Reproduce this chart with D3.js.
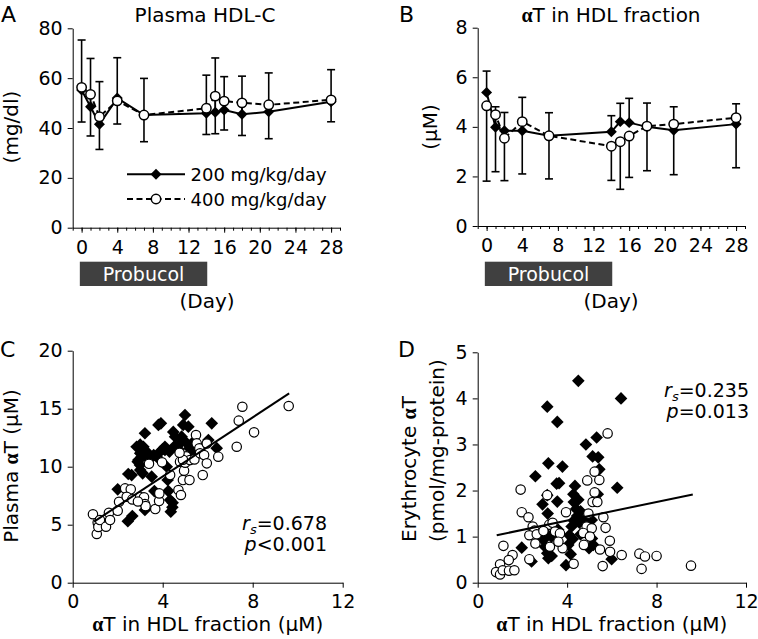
<!DOCTYPE html>
<html>
<head>
<meta charset="utf-8">
<script src="https://cdn.jsdelivr.net/npm/d3@7"></script>
<style>
  body { margin: 0; background: #fff; }
  svg { display: block; font-family: "DejaVu Sans", Verdana, sans-serif; }
</style>
</head>
<body>
<svg id="chart" width="758" height="639"></svg>
<script>
// ---- data ----
var days = [0, 1, 2, 4, 7, 14, 15, 16, 18, 21, 28];
var probucolDays = [-0.2, 14.1];

// panel A, plasma HDL-C (mg/dl)
var hdl200 = [55.2, 48.5, 41.5, 52.0, 45.2, 45.9, 46.3, 47.2, 45.5, 46.5, 50.5];
var hdl200Sd = [20.1, 19.4, 17.1, 16.2, 14.7, 15.3, 21.8, 13.4, 15.3, 15.6, 12.9];
var hdl400 = [56.3, 53.5, 44.5, 50.9, 45.2, 47.9, 52.8, 50.8, 50.1, 49.3, 51.3];
var hdl400Sd = [13.9, 16.7, 13.1, 9.3, 10.7, 10.5, 15.1, 11.6, 13.1, 13.6, 8.8];

// panel B, alpha-T in HDL fraction (uM)
var hdlT200 = [5.39, 3.98, 3.84, 3.84, 3.64, 3.80, 4.21, 4.17, 4.00, 3.86, 4.11];
var hdlT200Sd = [0.86, 0.83, 0.74, 1.35, 0.93, 0.65, 0.74, 0.98, 0.96, 0.95, 0.82];
var hdlT400 = [4.85, 4.49, 3.54, 4.21, 3.64, 3.22, 3.40, 3.63, 4.03, 4.11, 4.37];
var hdlT400Sd = [3.04, 2.30, 1.71, 2.11, 1.74, 1.38, 1.92, 1.67, 1.80, 2.04, 2.02];

// panel C, plasma aT vs aT in HDL
var plasma200 = [[2.0, 8.05], [2.45, 5.3], [2.65, 5.75], [2.47, 9.37], [2.62, 9.28], [2.84, 11.72], [2.92, 10.57],
  [2.89, 10.43], [3.0, 11.15], [2.99, 10.14], [3.07, 10.86], [3.0, 9.71], [3.11, 9.43], [3.21, 12.88], [3.14, 11.72],
  [3.29, 11.29], [3.21, 6.27], [3.51, 9.14], [3.63, 7.9], [3.73, 10.86], [3.81, 13.6], [3.92, 13.74], [3.88, 11.29],
  [4.1, 11.44], [4.1, 11.72], [4.18, 10.0], [4.22, 8.85], [4.25, 7.9], [4.33, 7.13], [4.36, 6.12], [4.43, 6.5],
  [4.44, 6.9], [4.47, 13.0], [4.55, 12.59], [4.5, 11.72], [4.77, 12.0], [4.84, 12.59], [4.91, 13.6], [5.0, 12.16],
  [4.99, 14.46], [5.14, 13.45], [5.19, 11.58], [5.29, 12.0], [5.36, 11.15], [6.03, 12.3], [6.18, 13.74], [6.40, 11.6],
  [3.6, 11.0], [3.4, 10.6], [4.3, 11.3], [4.7, 11.5], [3.0, 11.9], [3.2, 11.0], [4.0, 11.5]];
var plasma400 = [[0.9, 5.9], [1.07, 4.2], [1.11, 5.2], [1.14, 4.8], [1.21, 5.4], [1.48, 4.83], [1.61, 6.03], [1.66, 5.4],
  [2.0, 6.2], [2.06, 6.98], [2.33, 8.13], [2.58, 8.05], [2.4, 7.41], [2.65, 7.18], [3.0, 7.41], [3.17, 7.36], [3.21, 6.78],
  [3.24, 6.6], [3.39, 10.25], [3.67, 6.35], [3.84, 7.04], [3.85, 7.7], [3.97, 10.38], [4.33, 9.28], [4.7, 7.99],
  [4.81, 7.56], [4.77, 10.43], [4.9, 8.85], [4.95, 9.66], [5.0, 10.34], [5.04, 10.9], [5.19, 8.85], [5.21, 10.57],
  [5.41, 10.63], [5.48, 12.73], [5.51, 12.01], [5.63, 11.58], [5.66, 11.15], [5.78, 9.28], [5.84, 11.0], [5.96, 10.29],
  [5.96, 12.0], [6.47, 10.86], [7.29, 11.72], [7.38, 13.97], [7.54, 15.17], [8.06, 12.96], [9.6, 15.23], [4.9, 10.6],
  [4.75, 11.2], [2.9, 7.0]];
var plasmaFit = { slope: 1.274, intercept: 4.06, from: 0.95, to: 9.62 };
var plasmaStats = ["0.678", "<0.001"];

// panel D, erythrocyte aT vs aT in HDL
var rbc200 = [[4.50, 4.38], [3.11, 3.82], [3.56, 3.49], [6.41, 4.0], [4.84, 3.0], [5.32, 3.15], [5.14, 2.74],
  [5.39, 2.72], [5.44, 2.46], [3.16, 2.59], [3.79, 2.52], [2.58, 2.31], [3.53, 2.15], [3.64, 2.16], [6.24, 2.06],
  [4.35, 2.1], [4.28, 1.92], [5.37, 1.92], [3.11, 1.90], [2.9, 1.70], [3.56, 1.76], [3.13, 1.50], [4.3, 1.75],
  [4.4, 1.6], [4.5, 1.8], [4.45, 1.45], [4.6, 1.55], [4.3, 1.35], [4.55, 1.3], [4.87, 1.40], [5.1, 1.36], [5.11, 0.96],
  [5.17, 0.82], [4.98, 0.75], [1.97, 0.76], [2.41, 0.46], [2.94, 0.93], [3.01, 0.78], [3.11, 0.64], [3.16, 0.53],
  [3.31, 0.58], [3.95, 0.38], [4.16, 0.62], [4.1, 1.03], [4.2, 1.22], [4.05, 0.82], [5.99, 0.51], [3.3, 1.0],
  [3.6, 1.15], [4.25, 0.95], [4.6, 1.05], [3.0, 1.1]];
var rbc400 = [[5.81, 3.24], [1.92, 2.02], [5.23, 2.41], [4.9, 2.22], [5.44, 2.23], [5.23, 1.96], [5.14, 1.75],
  [5.35, 1.75], [1.97, 1.53], [2.27, 1.42], [3.95, 1.53], [3.11, 1.90], [2.46, 1.22], [2.54, 1.13], [2.31, 1.03],
  [2.64, 1.05], [3.2, 1.26], [3.35, 1.3], [3.46, 1.11], [3.68, 1.07], [2.94, 1.12], [2.58, 0.85], [3.23, 0.78],
  [3.8, 0.75], [3.61, 0.89], [4.95, 1.5], [4.87, 1.22], [5.1, 1.18], [4.72, 1.08], [5.02, 1.0], [4.75, 0.82],
  [5.62, 1.42], [5.72, 1.19], [5.91, 0.91], [5.47, 0.72], [5.92, 0.67], [5.59, 0.36], [6.44, 0.6], [7.23, 0.63],
  [7.48, 0.57], [7.33, 0.3], [8.0, 0.58], [4.29, 0.41], [2.31, 0.51], [1.15, 0.80], [1.56, 0.6], [1.39, 0.49],
  [1.0, 0.4], [0.82, 0.23], [1.0, 0.18], [1.12, 0.27], [1.4, 0.26], [1.64, 0.27], [9.54, 0.37]];
var rbcFit = { slope: 0.101, intercept: 0.944, from: 0.85, to: 9.62 };
var rbcStats = ["0.235", "=0.013"];

var svg = d3.select("#chart");
var alphaFont = "'Liberation Serif', 'DejaVu Serif', serif";
var diamond = d3.symbol().type(d3.symbolSquare);

function styleAxis(sel, size) {
    sel.select(".domain").attr("stroke", "#000").attr("stroke-width", 1);
    sel.selectAll(".tick line").attr("stroke", "#000");
    sel.selectAll(".tick text").attr("font-size", size).attr("fill", "#000")
        .attr("font-family", "'DejaVu Sans', Verdana, sans-serif");
}

// writes "aT" with a bold serif alpha
function alphaText(sel, before, after) {
    if (before) sel.append("tspan").text(before);
    sel.append("tspan").attr("font-family", alphaFont).attr("font-weight", "bold").text("\u03b1");
    sel.append("tspan").text(after);
}

function panelLetter(txt, x, y) {
    svg.append("text").attr("x", x).attr("y", y).attr("font-size", 22).text(txt);
}

/*
 * time course panel (A, B)
 */
function timePanel(p) {
    var x = d3.scaleLinear().domain([-1, 29]).range(p.xRange);
    var y = d3.scaleLinear().domain(p.yDomain).range(p.yRange);
    var g = svg.append("g");

    g.append("g").attr("transform", "translate(" + p.xRange[0] + ",0)")
        .call(d3.axisLeft(y).tickValues(p.yTicks).tickSize(5).tickPadding(5).tickSizeOuter(0))
        .call(styleAxis, 19);

    // minor ticks every day, labelled major ticks every 4 days
    g.append("g").attr("transform", "translate(0," + p.yRange[0] + ")")
        .call(d3.axisBottom(x).tickValues(d3.range(-1, 30)).tickSize(3).tickFormat("").tickSizeOuter(0))
        .call(styleAxis, 19);
    g.append("g").attr("transform", "translate(0," + p.yRange[0] + ")")
        .call(d3.axisBottom(x).tickValues(d3.range(0, 29, 4)).tickSize(5).tickPadding(8).tickSizeOuter(0))
        .call(function(s) { s.select(".domain").remove(); })
        .call(styleAxis, 19);

    // probucol period
    g.append("rect")
        .attr("x", x(probucolDays[0])).attr("width", x(probucolDays[1]) - x(probucolDays[0]))
        .attr("y", 261.7).attr("height", 24.3).attr("fill", "#404040");
    g.append("text").attr("x", (x(probucolDays[0]) + x(probucolDays[1])) / 2).attr("y", 281)
        .attr("text-anchor", "middle").attr("fill", "#fff").attr("font-size", 19).text("Probucol");
    g.append("text").attr("x", p.dayX).attr("y", 308).attr("text-anchor", "middle")
        .attr("font-size", 20).text("(Day)");

    // error bars: 200 group upward, 400 group downward
    var cap = 4;
    days.forEach(function(d, i) {
        var top = y(p.s200[i] + p.sd200[i]), bot = y(p.s400[i] - p.sd400[i]);
        g.append("line").attr("x1", x(d)).attr("x2", x(d)).attr("y1", y(p.s200[i])).attr("y2", top)
            .attr("stroke", "#000").attr("stroke-width", 1.6);
        g.append("line").attr("x1", x(d) - cap).attr("x2", x(d) + cap).attr("y1", top).attr("y2", top)
            .attr("stroke", "#000").attr("stroke-width", 1.6);
        g.append("line").attr("x1", x(d)).attr("x2", x(d)).attr("y1", y(p.s400[i])).attr("y2", bot)
            .attr("stroke", "#000").attr("stroke-width", 1.6);
        g.append("line").attr("x1", x(d) - cap).attr("x2", x(d) + cap).attr("y1", bot).attr("y2", bot)
            .attr("stroke", "#000").attr("stroke-width", 1.6);
    });

    var line = d3.line().x(function(d, i) { return x(days[i]); }).y(function(d) { return y(d); });

    g.append("path").datum(p.s200).attr("d", line).attr("fill", "none")
        .attr("stroke", "#000").attr("stroke-width", 2);
    g.selectAll(".d200").data(p.s200).enter().append("path")
        .attr("d", diamond.size(60))
        .attr("transform", function(d, i) { return "translate(" + x(days[i]) + "," + y(d) + ") rotate(45)"; })
        .attr("fill", "#000");

    g.append("path").datum(p.s400).attr("d", line).attr("fill", "none")
        .attr("stroke", "#000").attr("stroke-width", 2).attr("stroke-dasharray", "6,3.5");
    g.selectAll(".c400").data(p.s400).enter().append("circle")
        .attr("cx", function(d, i) { return x(days[i]); }).attr("cy", function(d) { return y(d); })
        .attr("r", 4.7).attr("fill", "#fff").attr("stroke", "#000").attr("stroke-width", 1.5);

    return { x: x, y: y, g: g };
}

/*
 * scatter panel (C, D)
 */
function scatterPanel(p) {
    var x = d3.scaleLinear().domain([0, 12]).range(p.xRange);
    var y = d3.scaleLinear().domain(p.yDomain).range(p.yRange);
    var g = svg.append("g");

    g.append("g").attr("transform", "translate(" + p.xRange[0] + ",0)")
        .call(d3.axisLeft(y).tickValues(p.yTicks).tickFormat(d3.format("d"))
            .tickSize(5).tickPadding(5).tickSizeOuter(0))
        .call(styleAxis, 19);
    g.append("g").attr("transform", "translate(0," + p.yRange[0] + ")")
        .call(d3.axisBottom(x).tickValues([0, 4, 8, 12]).tickSize(5).tickPadding(7).tickSizeOuter(0))
        .call(styleAxis, 19);

    g.selectAll(".d200").data(p.s200).enter().append("path")
        .attr("d", diamond.size(80))
        .attr("transform", function(d) { return "translate(" + x(d[0]) + "," + y(d[1]) + ") rotate(45)"; })
        .attr("fill", "#000");
    g.selectAll(".c400").data(p.s400).enter().append("circle")
        .attr("cx", function(d) { return x(d[0]); }).attr("cy", function(d) { return y(d[1]); })
        .attr("r", 4.7).attr("fill", "#fff").attr("stroke", "#000").attr("stroke-width", 1.2);

    g.append("line")
        .attr("x1", x(p.fit.from)).attr("y1", y(p.fit.intercept + p.fit.slope * p.fit.from))
        .attr("x2", x(p.fit.to)).attr("y2", y(p.fit.intercept + p.fit.slope * p.fit.to))
        .attr("stroke", "#000").attr("stroke-width", 2);

    var r = g.append("text").attr("x", p.statX).attr("y", p.statY).attr("text-anchor", "end").attr("font-size", 19);
    r.append("tspan").attr("font-style", "italic").text("r");
    r.append("tspan").attr("font-style", "italic").attr("font-size", 13).attr("dy", 4).text("s");
    r.append("tspan").attr("dy", -4).text("=" + p.stats[0]);
    var pv = g.append("text").attr("x", p.statX).attr("y", p.statY + 21).attr("text-anchor", "end").attr("font-size", 19);
    pv.append("tspan").attr("font-style", "italic").text("p");
    pv.append("tspan").text(p.stats[1]);

    var xl = g.append("text").attr("x", (p.xRange[0] + p.xRange[1]) / 2).attr("y", 631)
        .attr("text-anchor", "middle").attr("font-size", 20);
    alphaText(xl, null, "T in HDL fraction (\u03bcM)");
    return { x: x, y: y, g: g };
}

// ---- panel A ----
timePanel({
    xRange: [72.7, 340], yDomain: [0, 80], yRange: [227.7, 28.3], yTicks: [0, 20, 40, 60, 80],
    s200: hdl200, sd200: hdl200Sd, s400: hdl400, sd400: hdl400Sd, dayX: 207
});
panelLetter("A", 1, 22);
svg.append("text").attr("x", 205).attr("y", 22).attr("text-anchor", "middle").attr("font-size", 20).text("Plasma HDL-C");
svg.append("text").attr("transform", "translate(18,127) rotate(-90)").attr("text-anchor", "middle")
    .attr("font-size", 20).text("(mg/dl)");

// legend
var legend = [
    { label: "200 mg/kg/day", y: 174.3, dash: null },
    { label: "400 mg/kg/day", y: 199, dash: "6,3.5" }
];
legend.forEach(function(l, i) {
    svg.append("line").attr("x1", 127).attr("x2", 185).attr("y1", l.y).attr("y2", l.y)
        .attr("stroke", "#000").attr("stroke-width", 2).attr("stroke-dasharray", l.dash);
    if (i === 0) {
        svg.append("path").attr("d", diamond.size(60))
            .attr("transform", "translate(156," + l.y + ") rotate(45)").attr("fill", "#000");
    } else {
        svg.append("circle").attr("cx", 156).attr("cy", l.y).attr("r", 4.7)
            .attr("fill", "#fff").attr("stroke", "#000").attr("stroke-width", 1.5);
    }
    svg.append("text").attr("x", 190.5).attr("y", l.y + 6.5).attr("font-size", 18).text(l.label);
});

// ---- panel B ----
timePanel({
    xRange: [477.7, 745], yDomain: [0, 8], yRange: [226, 27.7], yTicks: [0, 2, 4, 6, 8],
    s200: hdlT200, sd200: hdlT200Sd, s400: hdlT400, sd400: hdlT400Sd, dayX: 611
});
panelLetter("B", 399, 22);
var tb = svg.append("text").attr("x", 611).attr("y", 22).attr("text-anchor", "middle").attr("font-size", 20);
alphaText(tb, null, "T in HDL fraction");
svg.append("text").attr("transform", "translate(437,127) rotate(-90)").attr("text-anchor", "middle")
    .attr("font-size", 20).text("(\u03bcM)");

// ---- panel C ----
scatterPanel({
    xRange: [72.7, 342.7], yDomain: [0, 20], yRange: [582.7, 350.7], yTicks: [0, 5, 10, 15, 20],
    s200: plasma200, s400: plasma400, fit: plasmaFit, stats: plasmaStats, statX: 327, statY: 530
});
panelLetter("C", 0, 357);
var yc = svg.append("text").attr("transform", "translate(18,466) rotate(-90)").attr("text-anchor", "middle")
    .attr("font-size", 20);
alphaText(yc, "Plasma ", "T (\u03bcM)");

// ---- panel D ----
scatterPanel({
    xRange: [477.7, 746], yDomain: [0, 5], yRange: [582.7, 352.3], yTicks: [0, 1, 2, 3, 4, 5],
    s200: rbc200, s400: rbc400, fit: rbcFit, stats: rbcStats, statX: 749, statY: 397
});
panelLetter("D", 398, 357);
var yd = svg.append("text").attr("transform", "translate(416,542) rotate(-90)").attr("font-size", 20);
alphaText(yd, "Erythrocyte ", "T");
svg.append("text").attr("transform", "translate(444,542) rotate(-90)").attr("font-size", 20)
    .text("(pmol/mg-protein)");
</script>
</body>
</html>
